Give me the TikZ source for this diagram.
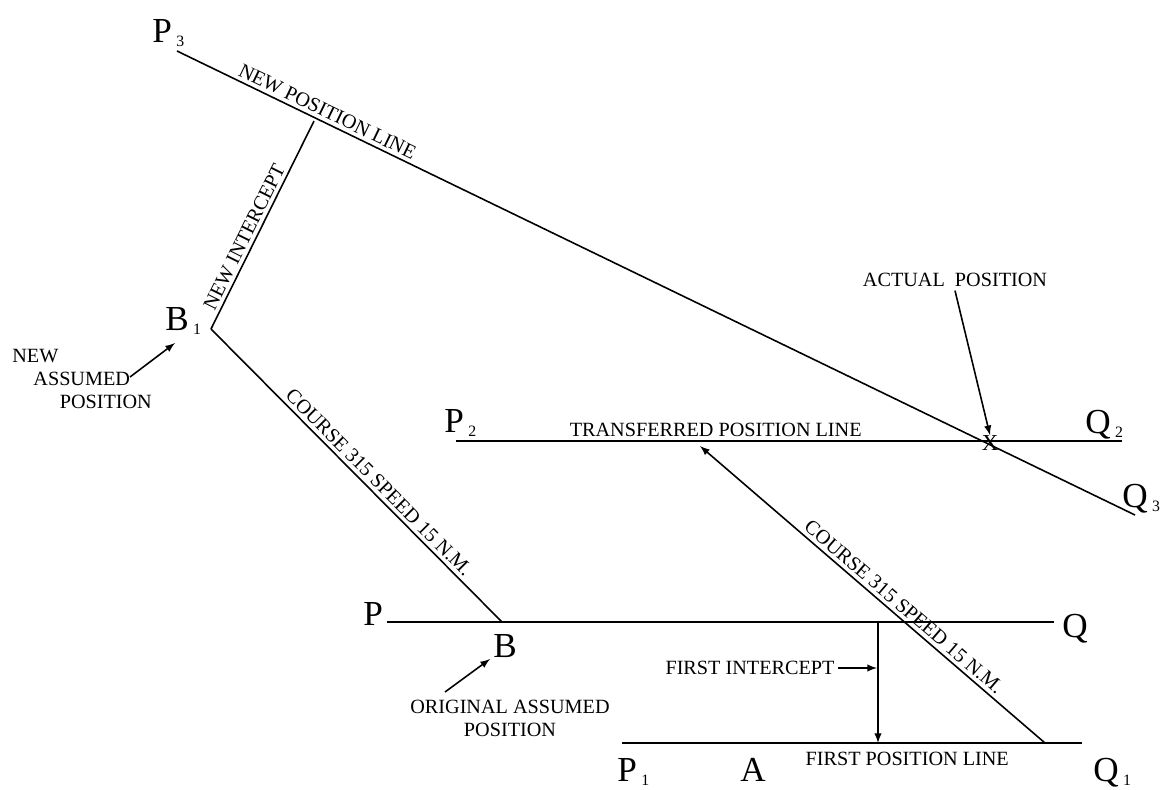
\documentclass[tikz,border=0pt]{standalone}
\usepackage{fontspec}
\setmainfont{Liberation Serif}
\tikzset{
  >=latex,
  pline/.style={line width=0.9pt},
  bigl/.style={font=\fontsize{20}{24}\selectfont,inner sep=0pt,anchor=base west},
  txt/.style={font=\fontsize{11.5}{13}\selectfont,inner sep=2pt}
}
\newcommand{\sublbl}[2]{#1\kern2.5pt\raisebox{-2.5pt}{\fontsize{9}{9}\selectfont #2}}

\begin{document}
\begin{tikzpicture}[x=0.02cm,y=-0.02cm]
      \useasboundingbox (0,0) rectangle (1170,789);
      % end points of the lines
      \coordinate (p3s) at (177,51);  \coordinate (q3e) at (1135,515);
      \coordinate (b1) at (211,329);  \coordinate (n1) at (314,121);
      \coordinate (bb) at (502,622);
      \coordinate (ps) at (387,622);  \coordinate (qe) at (1054,622);
      \coordinate (p2s) at (456,441); \coordinate (q2e) at (1122,441);
      \coordinate (p1s) at (622,743); \coordinate (q1e) at (1082,743);
      \coordinate (fi0) at (878,622); \coordinate (fi1) at (878,743);
      \coordinate (c1) at (1045,743); \coordinate (c2) at (700,446);
      % position lines
      \draw[pline] (p3s)--(q3e) node[txt,pos=.152,sloped,above] (npl){NEW POSITION LINE};
      \draw[pline] (p2s)--(q2e) node[txt,pos=.39,above] (tpl){TRANSFERRED POSITION LINE};
      \draw[pline] (ps)--(qe);
      \draw[pline] (p1s)--(q1e) node[txt,pos=.62,below=3pt] (fpl){FIRST POSITION LINE};
      % intercepts and courses
      \draw[pline] (b1)--(n1) node[txt,pos=.42,sloped,above] (nic){NEW INTERCEPT};
      \draw[pline] (b1)--(bb) node[txt,pos=.55,sloped,above] (crs1){COURSE 315 SPEED 15 N.M.};
      \draw[pline,<-] (c2)--(c1) node[txt,pos=.57,sloped,above] (crs2){COURSE 315 SPEED 15 N.M.};
      \draw[pline,->] (fi0)--(fi1);
      % point labels
      \node[bigl] (P3) at (152,42) {\sublbl{P}{3}};
      \node[bigl] (B1) at (165,330) {\sublbl{B}{1}};
      \node[bigl] (P) at (363,625) {P};
      \node[bigl] (B) at (493,657) {B};
      \node[bigl] (P2) at (444,432) {\sublbl{P}{2}};
      \node[bigl] (Q2) at (1085,433) {\sublbl{Q}{2}};
      \node[bigl] (Q3) at (1122,507) {\sublbl{Q}{3}};
      \node[bigl] (Q) at (1062,637) {Q};
      \node[bigl] (P1) at (617,781) {\sublbl{P}{1}};
      \node[bigl] (A) at (740,781) {A};
      \node[bigl] (Q1) at (1093,781) {\sublbl{Q}{1}};
      \node[font=\fontsize{13}{13}\selectfont,inner sep=0pt] (xpos) at (990,443) {X};
      % notes with arrows
      \node[txt] (act) at (955,280) {ACTUAL\ \ POSITION};
      \draw[pline,->] (act.south)--(xpos.north);
      \node[txt,inner sep=0pt,anchor=north west,align=left] (nap) at (12,349)
        {NEW\\\hspace*{12pt}ASSUMED\\\hspace*{27pt}POSITION};
      \coordinate (nap1) at (130,377); \coordinate (nap2) at (175,343);
      \draw[pline,->] (nap1)--(nap2);
      \node[txt,align=center,inner sep=0pt] (oap) at (510,718) {ORIGINAL ASSUMED\\POSITION};
      \coordinate (oap1) at (445,692); \coordinate (oap2) at (490,659);
      \draw[pline,->] (oap1)--(oap2);
      \node[txt] (fic) at (750,668) {FIRST INTERCEPT};
      \coordinate (fic1) at (877,668);
      \draw[pline,->] (fic.east)--(fic1);
    \end{tikzpicture}
\end{document}
